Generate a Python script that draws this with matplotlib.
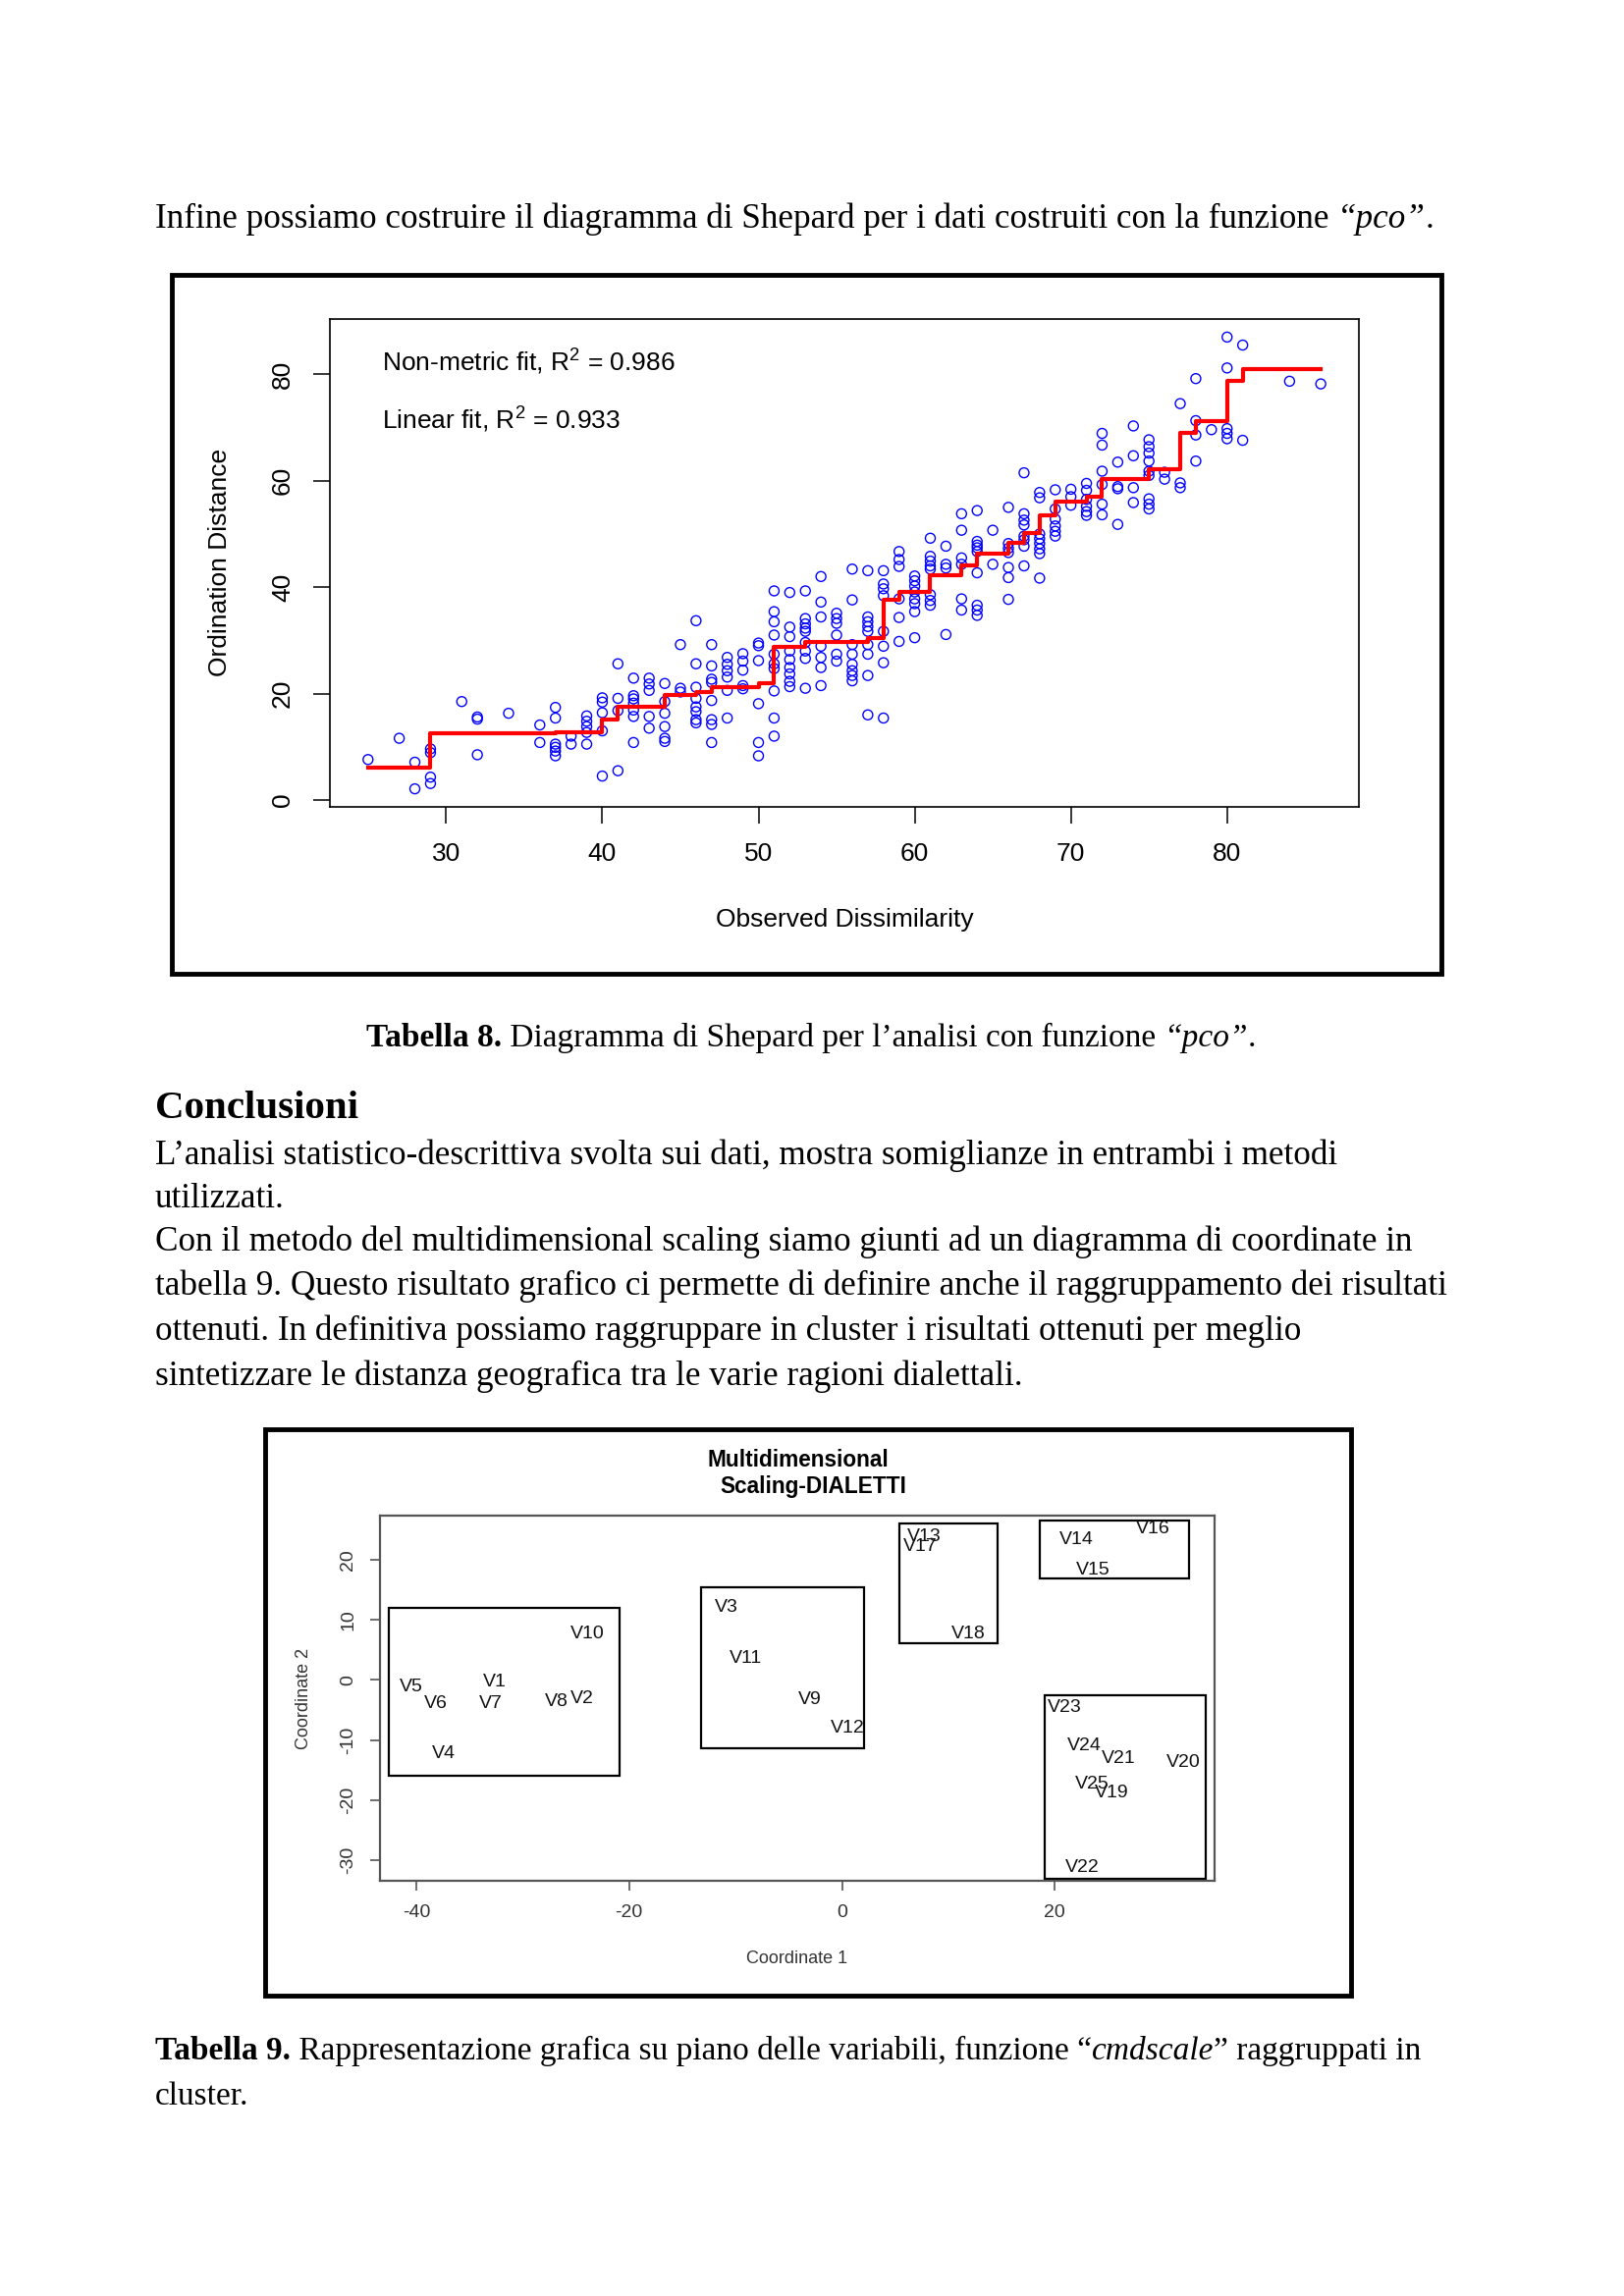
import matplotlib.pyplot as plt
from matplotlib.patches import Rectangle

plt.rcParams['font.family'] = ['Liberation Sans', 'DejaVu Sans']
plt.rcParams['mathtext.fontset'] = 'custom'
plt.rcParams['mathtext.rm'] = 'Liberation Sans'
plt.rcParams['axes.unicode_minus'] = False

# ---- Shepard diagram data (observed dissimilarity -> ordination distances) ----
dissim = [25, 27, 28, 29, 31, 32, 34, 36, 37, 38, 39, 40, 41, 42, 43, 44, 45, 46, 47, 48,
          49, 50, 51, 52, 53, 54, 55, 56, 57, 58, 59, 60, 61, 62, 63, 64, 65, 66, 67, 68,
          69, 70, 71, 72, 73, 74, 75, 76, 77, 78, 79, 80, 81, 84, 86]
ordin = [
    [7.6], [11.6], [7.1, 2.1], [9.6, 8.9, 4.3, 3.1], [18.5], [15.2, 15.6, 8.5], [16.3],
    [14.1, 10.8], [17.4, 15.4, 10.5, 9.9, 9.2, 8.3], [12.0, 10.5],
    [15.8, 14.8, 13.8, 12.7, 10.5], [19.2, 18.4, 16.4, 13.0, 4.5], [25.6, 19.1, 16.8, 5.5],
    [22.9, 19.6, 19.0, 18.2, 16.9, 15.7, 10.8], [22.9, 21.8, 20.6, 15.7, 13.5],
    [21.9, 18.5, 16.3, 13.8, 11.6, 11.0], [29.2, 21.0, 20.3],
    [33.7, 25.6, 21.2, 19.1, 17.5, 16.6, 15.1, 14.5],
    [29.2, 25.2, 22.7, 22.1, 18.7, 15.1, 14.2, 10.8], [26.8, 25.5, 24.3, 23.1, 20.6, 15.4],
    [27.5, 26.1, 24.4, 21.5, 20.9], [29.5, 29.0, 26.2, 18.1, 10.8, 8.3],
    [39.3, 35.4, 33.5, 31.0, 27.4, 25.6, 24.7, 20.5, 15.4, 12.0],
    [39.0, 32.5, 30.7, 28.0, 26.4, 24.9, 23.7, 22.3, 21.3],
    [39.3, 34.1, 33.1, 32.3, 31.7, 29.6, 28.0, 26.6, 21.0],
    [42.0, 37.2, 34.4, 28.9, 26.8, 24.9, 21.5], [35.1, 34.1, 33.2, 31.0, 27.4, 26.1],
    [43.4, 37.6, 29.2, 27.4, 25.5, 24.3, 23.4, 22.4],
    [43.1, 34.4, 33.5, 32.6, 31.7, 29.2, 27.4, 23.4, 16.0],
    [43.1, 40.6, 39.7, 38.4, 31.7, 28.9, 25.8, 15.4], [46.7, 45.2, 43.9, 37.8, 34.3, 29.8],
    [42.1, 41.2, 40.2, 39.1, 37.8, 36.9, 35.4, 30.5],
    [49.2, 45.8, 44.9, 44.0, 43.4, 38.6, 37.5, 36.6], [47.7, 44.3, 43.6, 31.1],
    [53.8, 50.7, 45.5, 44.3, 37.8, 35.7],
    [54.4, 48.6, 47.9, 47.4, 46.7, 42.7, 36.6, 35.7, 34.7], [50.7, 44.3],
    [55.0, 48.2, 47.3, 46.5, 43.7, 41.8, 37.7],
    [61.5, 53.8, 52.6, 51.7, 49.6, 48.9, 47.7, 44.0],
    [57.8, 56.8, 50.0, 49.1, 48.2, 47.2, 46.3, 41.7], [58.3, 54.7, 52.8, 51.5, 50.5, 49.6],
    [58.4, 57.0, 55.4], [59.5, 58.2, 56.5, 55.2, 54.2, 53.5],
    [68.9, 66.7, 61.8, 59.3, 55.6, 53.6], [63.5, 58.9, 58.5, 51.8], [70.3, 64.7, 58.7, 55.9],
    [67.7, 66.4, 65.2, 63.7, 61.8, 61.0, 56.6, 55.6, 54.7], [61.6, 60.3], [74.5, 59.6, 58.7],
    [79.2, 71.3, 68.6, 63.7], [69.6], [87.0, 81.2, 69.8, 68.9, 67.9], [85.5, 67.6],
    [78.7], [78.2],
]
# monotone (non-metric) fit, step function
step_x = [25, 29, 37, 40, 41, 44, 46, 47, 50, 51, 53, 57, 58, 59, 61, 63, 64, 66, 67, 68,
          69, 71, 72, 75, 77, 78, 80, 81, 86]
step_y = [6.1, 12.5, 12.8, 15.1, 17.6, 19.7, 20.3, 21.2, 22.0, 28.7, 29.7, 30.4, 37.7, 39.1,
          42.3, 44.0, 46.3, 48.4, 50.1, 53.5, 56.0, 57.0, 60.4, 62.1, 69.0, 71.2, 78.7, 81.0,
          81.0]

# ---- MDS (cmdscale) data ----
labels = ['V1', 'V2', 'V3', 'V4', 'V5', 'V6', 'V7', 'V8', 'V9', 'V10', 'V11', 'V12', 'V13',
          'V14', 'V15', 'V16', 'V17', 'V18', 'V19', 'V20', 'V21', 'V22', 'V23', 'V24', 'V25']
coord1 = [-32.6, -24.4, -10.9, -37.4, -40.5, -38.2, -33.0, -26.8, -3.0, -23.9, -9.0, 0.5, 7.7,
          22.0, 23.6, 29.2, 7.4, 11.9, 25.3, 32.1, 26.0, 22.6, 20.9, 22.8, 23.5]
coord2 = [-0.3, -3.2, 12.0, -12.3, -1.1, -4.0, -4.0, -3.65, -3.3, 7.6, 3.5, -8.0, 23.9,
          23.4, 18.2, 25.1, 22.2, 7.7, -18.9, -13.8, -13.1, -31.2, -4.6, -11.0, -17.4]
# cluster rectangles (x0, x1, y0, y1)
clusters = [(-42.6, -20.9, -16.0, 12.0), (-13.2, 2.1, -11.4, 15.4), (5.4, 14.6, 6.1, 26.0),
            (18.6, 32.6, 16.9, 26.6), (19.0, 34.2, -33.1, -2.5)]

W, H = 1654, 2339
fig = plt.figure(figsize=(W / 100, H / 100), dpi=100)
renderer = fig.canvas.get_renderer()


def fx(px):
    return px / W


def fy(py):
    return 1 - py / H


def frame(x0, y0, x1, y1, lw=3.5):
    fig.add_artist(Rectangle((fx(x0), fy(y1)), (x1 - x0) / W, (y1 - y0) / H,
                             transform=fig.transFigure, fill=False, lw=lw, ec='black'))


# ---------------- Shepard plot ----------------
frame(175, 280, 1468, 992)
ax1 = fig.add_axes([fx(336), fy(822), (1384 - 336) / W, (822 - 325) / H])
xs = [d for d, col in zip(dissim, ordin) for _ in col]
ys = [v for col in ordin for v in col]
ax1.scatter(xs, ys, s=52, facecolors='none', edgecolors='#0000ff', linewidths=1.0, zorder=2)
ax1.step(step_x, step_y, where='post', color='#ff0000', lw=3, zorder=3)
ax1.margins(x=0.04, y=0.04)
ax1.set_xticks([30, 40, 50, 60, 70, 80])
ax1.set_yticks([0, 20, 40, 60, 80])
ax1.tick_params(direction='out', length=12, width=1.1, labelsize=19, pad=14)
for lab in ax1.get_yticklabels():
    lab.set_rotation(90)
    lab.set_va('center')
for sp in ax1.spines.values():
    sp.set_linewidth(1.2)
fig.text(fx(860), fy(937), 'Observed Dissimilarity', ha='center', va='center', fontsize=19)
fig.text(fx(224), fy(573), 'Ordination Distance', ha='center', va='center', fontsize=19,
         rotation=90)
fig.text(fx(389), fy(368), 'Non-metric fit, $\\mathrm{R}^2$ = 0.986', va='center', fontsize=19)
fig.text(fx(389), fy(427), 'Linear fit, $\\mathrm{R}^2$ = 0.933', va='center', fontsize=19)

# ---------------- MDS plot ----------------
frame(270, 1456, 1376, 2033)
ax2 = fig.add_axes([fx(387), fy(1916), (1237 - 387) / W, (1916 - 1544) / H])
lo, hi = min(coord1), max(coord1)
ax2.set_xlim(lo - 0.04 * (hi - lo), hi + 0.04 * (hi - lo))
lo, hi = min(coord2), max(coord2)
ax2.set_ylim(lo - 0.04 * (hi - lo), hi + 0.04 * (hi - lo))
for lab, c1, c2 in zip(labels, coord1, coord2):
    ax2.text(c1, c2, lab, ha='center', va='center', fontsize=14, color='#111111')
for x0, x1, y0, y1 in clusters:
    ax2.add_patch(Rectangle((x0, y0), x1 - x0, y1 - y0, fill=False, lw=1.6, ec='black'))
ax2.set_xticks([-40, -20, 0, 20])
ax2.set_yticks([-30, -20, -10, 0, 10, 20])
ax2.tick_params(direction='out', length=7, width=1.2, labelsize=14, pad=10,
                color='#555555', labelcolor='#333333')
for lab in ax2.get_yticklabels():
    lab.set_rotation(90)
    lab.set_va('center')
for sp in ax2.spines.values():
    sp.set_linewidth(1.6)
    sp.set_color('#555555')
fig.text(fx(813), fy(1487), 'Multidimensional', ha='center', va='center',
         fontsize=16.3, fontweight='bold')
fig.text(fx(828), fy(1514), 'Scaling-DIALETTI', ha='center', va='center',
         fontsize=16.3, fontweight='bold')
fig.text(fx(812), fy(1996), 'Coordinate 1', ha='center', va='center', fontsize=13,
         color='#333333')
fig.text(fx(310), fy(1730), 'Coordinate 2', ha='center', va='center', fontsize=13,
         color='#333333', rotation=90)

# ---------------- document text ----------------
SERIF = ['Liberation Serif', 'DejaVu Serif']
BODY = 25.3
CAPTION = 24.0


def width_of(s, **kw):
    t = fig.text(0, 0, '|' + s + '|', **kw)
    bar = fig.text(0, 0, '||', **kw)
    w = t.get_window_extent(renderer=renderer).width - bar.get_window_extent(renderer=renderer).width
    t.remove()
    bar.remove()
    return w


def runs(x, y, parts, size=BODY, center=False):
    kws = []
    for s, weight, style in parts:
        kws.append(dict(fontsize=size, fontweight=weight, fontstyle=style, family=SERIF))
    widths = [width_of(s, **kw) for (s, _, _), kw in zip(parts, kws)]
    if center:
        x = x - sum(widths) / 2
    for (s, _, _), kw, w in zip(parts, kws, widths):
        fig.text(fx(x), fy(y), s, va='baseline', ha='left', **kw)
        x += w


N, B, I = 'normal', 'bold', 'italic'
runs(158, 232, [('Infine possiamo costruire il diagramma di Shepard per i dati costruiti con la funzione ', N, N),
                ('\u201cpco\u201d', N, I), ('.', N, N)])
runs(826, 1066, [('Tabella 8.', B, N), (' Diagramma di Shepard per l\u2019analisi con funzione ', N, N),
                 ('\u201cpco\u201d', N, I), ('.', N, N)], size=CAPTION, center=True)
runs(158, 1139, [('Conclusioni', B, N)], size=29.5)
para = [
    'L\u2019analisi statistico-descrittiva svolta sui dati, mostra somiglianze in entrambi i metodi',
    'utilizzati.',
    'Con il metodo del multidimensional scaling siamo giunti ad un diagramma di coordinate in',
    'tabella 9. Questo risultato grafico ci permette di definire anche il raggruppamento dei risultati',
    'ottenuti. In definitiva possiamo raggruppare in cluster i risultati ottenuti per meglio',
    'sintetizzare le distanza geografica tra le varie ragioni dialettali.',
]
para_y = [1186, 1230, 1274, 1319, 1365, 1411]
for line, yy in zip(para, para_y):
    runs(158, yy, [(line, N, N)])
runs(158, 2098, [('Tabella 9.', B, N), (' Rappresentazione grafica su piano delle variabili, funzione \u201c', N, N),
                 ('cmdscale', N, I), ('\u201d raggruppati in', N, N)], size=CAPTION)
runs(158, 2144, [('cluster.', N, N)], size=CAPTION)

fig.savefig('out.png', dpi=100)
